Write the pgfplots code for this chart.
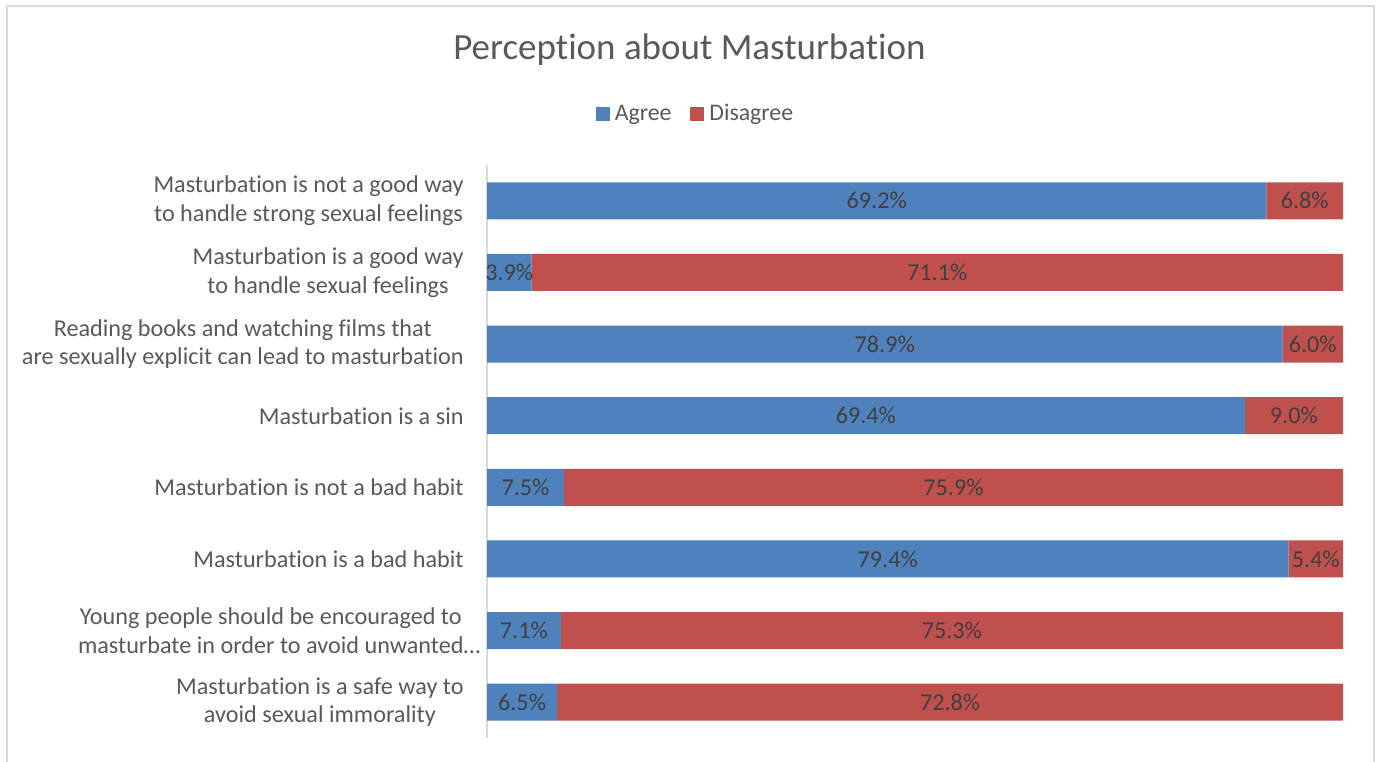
\documentclass[border=0pt]{standalone}
\usepackage{pgfplots}
\pgfplotsset{compat=1.18}
\usepackage{pgfplotstable}
\usepackage{fontspec}
\setmainfont{Carlito}[Ligatures=NoCommon]
\definecolor{agreeblue}{HTML}{4F81BD}
\definecolor{disred}{HTML}{C0504D}
\definecolor{txtgray}{HTML}{595959}
\definecolor{lblgray}{HTML}{404040}
\definecolor{linegray}{HTML}{D9D9D9}
\pgfplotstableread{
agree dis
69.2 6.8
3.9 71.1
78.9 6.0
69.4 9.0
7.5 75.9
79.4 5.4
7.1 75.3
6.5 72.8
}\datatable
\pgfplotsset{common/.style={
  at={(243.5pt,11.5pt)}, anchor=south west,
  scale only axis, width=428pt, height=286.5pt,
  xmin=0, xmax=100, ymin=-0.5, ymax=7.5, enlargelimits=false,
  y dir=reverse, clip=false}}
\begin{document}
\begin{tikzpicture}
\useasboundingbox (0,0) rectangle (690pt,380.5pt);
\draw[linegray, line width=1pt] (3.4pt,-5pt) -- (3.4pt,377.6pt) -- (686.8pt,377.6pt) -- (686.8pt,-5pt);
\node[anchor=base, text=txtgray, font=\fontsize{18.5}{22}\selectfont] at (344.75pt,350.5pt) {Perception about Masturbation};
\begin{axis}[common,
  xbar stacked, bar width=18.5pt,
  axis x line=none, axis y line*=left,
  axis line style={-, linegray, line width=0.75pt},
  ytick={0,...,7}, major tick length=0pt,
  yticklabels={
    {Masturbation is not a good way\\to handle strong sexual feelings},
    {Masturbation is a good way\\to handle sexual feelings},
    {Reading books and watching films that\\are sexually explicit can lead to masturbation},
    {Masturbation is a sin},
    {Masturbation is not a bad habit},
    {Masturbation is a bad habit},
    {Young people should be encouraged to\\masturbate in order to avoid unwanted\rlap{…}},
    {Masturbation is a safe way to\\avoid sexual immorality}},
  yticklabel style={anchor=east, align=center, inner sep=0pt, xshift=-11.5pt, text=txtgray, font=\fontsize{12.1}{14.3}\selectfont},
  legend columns=2,
  legend style={at={(axis description cs:0.2447,1.089)}, anchor=center, draw=none, fill=none,
    text=txtgray, font=\fontsize{11.9}{14}\selectfont,
    /tikz/every even column/.append style={column sep=7.5pt}},
  legend image code/.code={\fill[#1] (0pt,-3.5pt) rectangle (7pt,3.5pt); \path (7.5pt,0pt);},
]
\addplot[fill=agreeblue, draw=none] table[x expr=\thisrow{agree}/(\thisrow{agree}+\thisrow{dis})*100, y expr=\coordindex] {\datatable};
\addplot[fill=disred, draw=none] table[x expr=\thisrow{dis}/(\thisrow{agree}+\thisrow{dis})*100, y expr=\coordindex] {\datatable};
\legend{Agree, Disagree}
\end{axis}
\begin{axis}[common, hide axis,
  /pgf/number format/assume math mode=true,
  point meta=explicit,
  nodes near coords={\pgfmathprintnumber[fixed,precision=1,fixed zerofill]{\pgfplotspointmeta}\%},
  every node near coord/.append style={anchor=center, inner sep=0pt, text=lblgray, font=\fontsize{12.1}{14.3}\selectfont},
]
\addplot[draw=none, mark=none] table[x expr=\thisrow{agree}/(\thisrow{agree}+\thisrow{dis})*50, y expr=\coordindex, meta=agree] {\datatable};
\addplot[draw=none, mark=none] table[x expr=(\thisrow{agree}+\thisrow{dis}/2)/(\thisrow{agree}+\thisrow{dis})*100, y expr=\coordindex, meta=dis] {\datatable};
\end{axis}
\end{tikzpicture}
\end{document}
